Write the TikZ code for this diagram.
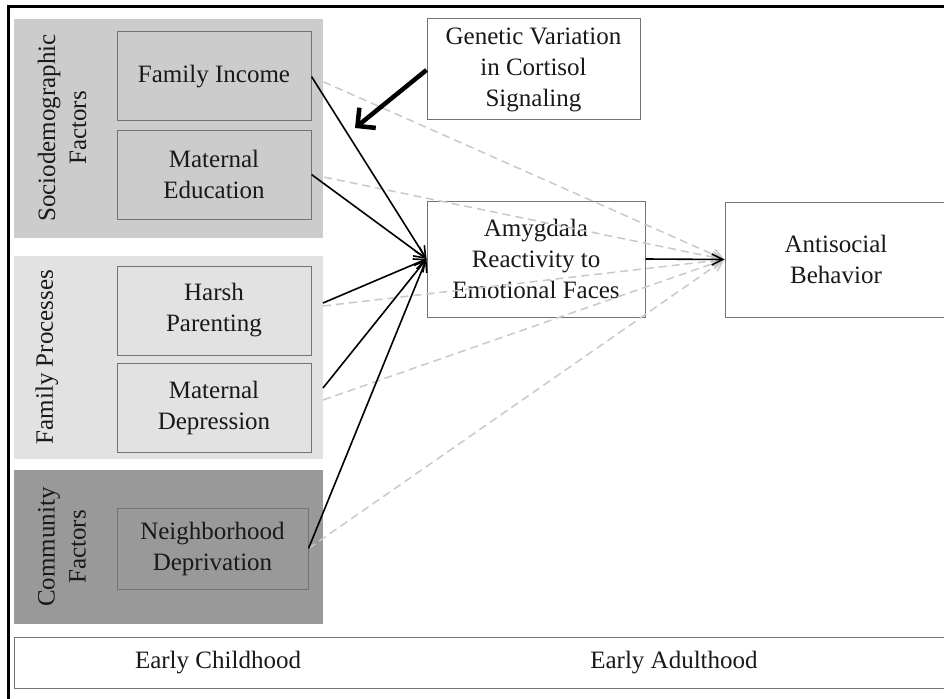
\documentclass[tikz,border=0pt]{standalone}
\usepackage{fontspec}
\setmainfont{Liberation Serif}
\usetikzlibrary{arrows.meta}

\definecolor{sociogray}{gray}{0.80}
\definecolor{famgray}{gray}{0.885}
\definecolor{commgray}{gray}{0.60}
\definecolor{boxline}{gray}{0.45}
\definecolor{dashgray}{gray}{0.79}

\tikzset{
  txt/.style={font=\fontsize{25}{31}\selectfont, text=black!90},
  panel/.style={inner sep=0pt, anchor=north west, minimum width=309pt},
  factor/.style={txt, draw=boxline, line width=1pt, align=center, inner sep=0pt,
    minimum width=194pt, minimum height=89pt},
  outcome/.style={txt, draw=boxline, fill=white, line width=1pt, align=center, inner sep=0pt},
  grouplabel/.style={txt, rotate=90, align=center},
  effect/.style={line width=1.6pt, -{Straight Barb[length=11pt, width=11pt]}},
  direct/.style={dashgray, line width=1.5pt, dash pattern=on 8pt off 5pt,
    -{Straight Barb[length=11pt, width=11pt]}}
}

\begin{document}
\begin{tikzpicture}[x=1pt, y=-1pt]
  \useasboundingbox (0,0) rectangle (944,698);
  \clip (0,0) rectangle (944,698);

  % outer frame
  \draw[line width=2.2pt] (8.5,6.5) rectangle (980,730);

  % group panels
  \node[panel, fill=sociogray, minimum height=219pt] (socio) at (14,19) {};
  \node[panel, fill=famgray, minimum height=203pt] (fam) at (14,256) {};
  \node[panel, fill=commgray, minimum height=154pt] (comm) at (14,470) {};

  \node[grouplabel] (sociolab) at (62,128) {Sociodemographic\\Factors};
  \node[grouplabel] (famlab) at (47,357) {Family Processes};
  \node[grouplabel] (commlab) at (62,547) {Community\\Factors};

  % early childhood factors
  \node[factor] (income) at (214,76.5) {Family Income};
  \node[factor] (educ) at (214,174.5) {Maternal\\Education};
  \node[factor] (harsh) at (214,310.5) {Harsh\\Parenting};
  \node[factor] (depress) at (214,407.5) {Maternal\\Depression};
  \node[factor, minimum width=191pt, minimum height=81pt] (neighbor) at (212.5,548.5) {Neighborhood\\Deprivation};

  % moderator, mediator, outcome
  \node[outcome, minimum width=213pt, minimum height=101pt] (gene) at (533.5,69.5) {Genetic Variation\\in Cortisol\\Signaling};
  \node[outcome, minimum width=218pt, minimum height=116pt] (amyg) at (536,259) {Amygdala\\Reactivity to\\Emotional Faces};
  \node[outcome, minimum width=222pt, minimum height=115pt] (anti) at (836,259.5) {Antisocial\\Behavior};

  % time line
  \node[outcome, anchor=north west, minimum width=960pt, minimum height=51pt] (time) at (14,637) {};
  \node[txt] (child) at (218,663) {Early Childhood};
  \node[txt] (adult) at (674,663) {Early Adulthood};

  % start points at the panel edge
  \coordinate (harshout) at (323,303);
  \coordinate (harshdash) at (323,306);
  \coordinate (depout) at (323,388);
  \coordinate (depdash) at (323,400);
  \coordinate (modtip) at (355,128);

  % direct paths to outcome
  \draw[direct] (income.east) -- (anti.west);
  \draw[direct] (educ.east) -- (anti.west);
  \draw[direct] (harshdash) -- (anti.west);
  \draw[direct] (depdash) -- (anti.west);
  \draw[direct] (neighbor.east) -- (anti.west);

  % paths to amygdala
  \draw[effect] (income.east) -- (amyg.west);
  \draw[effect] (educ.east) -- (amyg.west);
  \draw[effect] (harshout) -- (amyg.west);
  \draw[effect] (depout) -- (amyg.west);
  \draw[effect] (neighbor.east) -- (amyg.west);
  \draw[effect] (amyg.east) -- (anti.west);

  % moderation
  \draw[line width=4.5pt, -{Straight Barb[length=13pt, width=26pt]}] (gene.west |- 0,70) -- (modtip);
\end{tikzpicture}
\end{document}
